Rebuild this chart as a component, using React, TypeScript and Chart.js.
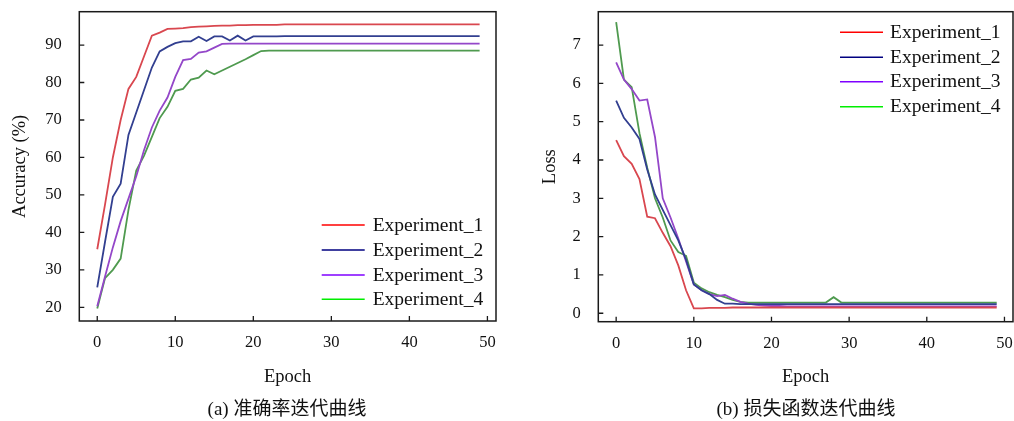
import React, { useEffect, useRef } from "react";
import { Chart, registerables } from "chart.js";

Chart.register(...registerables);

const epochs = [0, 1, 2, 3, 4, 5, 6, 7, 8, 9, 10, 11, 12, 13, 14, 15, 16, 17, 18, 19, 20, 21, 22, 23, 24, 25, 26, 27, 28, 29, 30, 31, 32, 33, 34, 35, 36, 37, 38, 39, 40, 41, 42, 43, 44, 45, 46, 47, 48, 49];

const seriesNames = ["Experiment_1", "Experiment_2", "Experiment_3", "Experiment_4"];

const acc1 = [35.5, 47.5, 60, 70, 78.3, 81.5, 87, 92.5, 93.3, 94.3, 94.4, 94.5, 94.8, 94.9, 95.0, 95.1, 95.2, 95.2, 95.3, 95.3, 95.4, 95.4, 95.4, 95.4, 95.5, 95.5, 95.5, 95.5, 95.5, 95.5, 95.5, 95.5, 95.5, 95.5, 95.5, 95.5, 95.5, 95.5, 95.5, 95.5, 95.5, 95.5, 95.5, 95.5, 95.5, 95.5, 95.5, 95.5, 95.5, 95.5];
const acc2 = [25.3, 37.5, 49.5, 53, 66, 72, 78, 84, 88.3, 89.5, 90.5, 91, 91, 92.2, 91.1, 92.3, 92.3, 91.2, 92.5, 91.2, 92.3, 92.3, 92.3, 92.3, 92.4, 92.4, 92.4, 92.4, 92.4, 92.4, 92.4, 92.4, 92.4, 92.4, 92.4, 92.4, 92.4, 92.4, 92.4, 92.4, 92.4, 92.4, 92.4, 92.4, 92.4, 92.4, 92.4, 92.4, 92.4, 92.4];
const acc3 = [20.3, 28.2, 36, 43, 49, 55, 62, 68, 72.5, 76, 81.5, 86, 86.3, 88, 88.3, 89.3, 90.3, 90.4, 90.4, 90.4, 90.4, 90.4, 90.4, 90.4, 90.4, 90.4, 90.4, 90.4, 90.4, 90.4, 90.4, 90.4, 90.4, 90.4, 90.4, 90.4, 90.4, 90.4, 90.4, 90.4, 90.4, 90.4, 90.4, 90.4, 90.4, 90.4, 90.4, 90.4, 90.4, 90.4];
const acc4 = [19.7, 27.8, 30, 33, 46, 56.5, 60.5, 65.5, 70.5, 73.5, 77.8, 78.3, 80.8, 81.3, 83.2, 82.2, 83.2, 84.2, 85.2, 86.2, 87.3, 88.4, 88.5, 88.5, 88.5, 88.5, 88.5, 88.5, 88.5, 88.5, 88.5, 88.5, 88.5, 88.5, 88.5, 88.5, 88.5, 88.5, 88.5, 88.5, 88.5, 88.5, 88.5, 88.5, 88.5, 88.5, 88.5, 88.5, 88.5, 88.5];

const loss1 = [4.52, 4.1, 3.9, 3.5, 2.52, 2.48, 2.1, 1.75, 1.25, 0.6, 0.13, 0.13, 0.14, 0.14, 0.14, 0.15, 0.15, 0.15, 0.15, 0.15, 0.15, 0.15, 0.15, 0.15, 0.15, 0.15, 0.15, 0.15, 0.15, 0.15, 0.15, 0.15, 0.15, 0.15, 0.15, 0.15, 0.15, 0.15, 0.15, 0.15, 0.15, 0.15, 0.15, 0.15, 0.15, 0.15, 0.15, 0.15, 0.15, 0.15];
const loss2 = [5.55, 5.1, 4.85, 4.55, 3.75, 3.1, 2.7, 2.3, 1.9, 1.4, 0.75, 0.6, 0.5, 0.35, 0.25, 0.25, 0.24, 0.24, 0.24, 0.24, 0.24, 0.24, 0.24, 0.24, 0.24, 0.24, 0.24, 0.24, 0.24, 0.24, 0.24, 0.24, 0.24, 0.24, 0.24, 0.24, 0.24, 0.24, 0.24, 0.24, 0.24, 0.24, 0.24, 0.24, 0.24, 0.24, 0.24, 0.24, 0.24, 0.24];
const loss3 = [6.55, 6.1, 5.85, 5.55, 5.58, 4.6, 3.0, 2.5, 1.95, 1.35, 0.75, 0.6, 0.5, 0.45, 0.48, 0.38, 0.3, 0.25, 0.22, 0.2, 0.19, 0.19, 0.18, 0.18, 0.18, 0.18, 0.18, 0.18, 0.18, 0.18, 0.18, 0.18, 0.18, 0.18, 0.18, 0.18, 0.18, 0.18, 0.18, 0.18, 0.18, 0.18, 0.18, 0.18, 0.18, 0.18, 0.18, 0.18, 0.18, 0.18];
const loss4 = [7.6, 6.1, 5.9, 4.7, 3.8, 3.0, 2.5, 1.9, 1.6, 1.5, 0.8, 0.65, 0.55, 0.48, 0.42, 0.35, 0.3, 0.28, 0.28, 0.28, 0.28, 0.28, 0.28, 0.28, 0.28, 0.28, 0.28, 0.28, 0.42, 0.28, 0.28, 0.28, 0.28, 0.28, 0.28, 0.28, 0.28, 0.28, 0.28, 0.28, 0.28, 0.28, 0.28, 0.28, 0.28, 0.28, 0.28, 0.28, 0.28, 0.28];

const xTicks = [0, 10, 20, 30, 40, 50];
const accTicks = [20, 30, 40, 50, 60, 70, 80, 90];
const lossTicks = [0, 1, 2, 3, 4, 5, 6, 7];

const lineColors = ["#d9474f", "#323f90", "#9447c9", "#4f9a4f"];
const legendColors = ["#ff0000", "#000080", "#7f00ff", "#00ee00"];

const SERIF = '"Liberation Serif", "Times New Roman", serif';

const framePlugin = {
  id: "frameLegend",
  afterDraw(chart: any, _args: any, opts: any) {
    const { ctx, chartArea: a, scales } = chart;
    ctx.save();
    ctx.strokeStyle = "#1a1a1a";
    ctx.lineWidth = 1.5;
    ctx.strokeRect(a.left, a.top, a.right - a.left, a.bottom - a.top);
    ctx.lineWidth = 1.3;
    ctx.beginPath();
    scales.x.ticks.forEach((t: any) => {
      const px = scales.x.getPixelForValue(t.value);
      ctx.moveTo(px, a.bottom);
      ctx.lineTo(px, a.bottom - 5);
    });
    scales.y.ticks.forEach((t: any) => {
      const py = scales.y.getPixelForValue(t.value);
      ctx.moveTo(a.left, py);
      ctx.lineTo(a.left + 5, py);
    });
    ctx.stroke();

    // legend
    const ds = chart.data.datasets;
    ctx.font = `19.5px ${SERIF}`;
    ctx.textBaseline = "middle";
    ctx.textAlign = "left";
    ds.forEach((d: any, i: number) => {
      const y = opts.anchor === "bottom" ? a.bottom + opts.rows[i] : a.top + opts.rows[i];
      ctx.strokeStyle = legendColors[i];
      ctx.lineWidth = 1.6;
      ctx.beginPath();
      ctx.moveTo(a.right - opts.lineStart, y);
      ctx.lineTo(a.right - opts.lineStart + 43, y);
      ctx.stroke();
      ctx.fillStyle = "#111";
      ctx.fillText(d.label, a.right - opts.textStart, y + 0.5);
    });
    ctx.restore();
  },
};

function makeConfig(series: number[][], yMin: number, yMax: number, yTicks: number[], yTitle: string, pad: any, yWidth: number, xHeight: number, legend: any) {
  return {
    type: "line",
    data: {
      labels: epochs,
      datasets: series.map((s, i) => ({
        label: seriesNames[i],
        data: s,
        borderColor: lineColors[i],
        backgroundColor: lineColors[i],
        borderWidth: 1.8,
        pointRadius: 0,
        tension: 0,
        fill: false,
      })),
    },
    options: {
      responsive: false,
      animation: false,
      layout: { padding: pad },
      plugins: {
        legend: { display: false },
        tooltip: { enabled: false },
        frameLegend: legend,
      },
      scales: {
        x: {
          type: "linear",
          min: -2.3,
          max: 51.1,
          afterBuildTicks: (s: any) => {
            s.ticks = xTicks.map((v) => ({ value: v }));
          },
          afterFit: (s: any) => {
            s.height = xHeight;
            s.paddingLeft = 0;
            s.paddingRight = 0;
          },
          grid: { display: false, drawTicks: false },
          border: { display: false },
          ticks: {
            padding: 12,
            color: "#111",
            font: { family: SERIF, size: 16.5 },
            maxRotation: 0,
          },
          title: {
            display: true,
            text: "Epoch",
            color: "#111",
            font: { family: SERIF, size: 18.5 },
            padding: { top: 0, bottom: 12 },
          },
        },
        y: {
          type: "linear",
          min: yMin,
          max: yMax,
          afterBuildTicks: (s: any) => {
            s.ticks = yTicks.map((v) => ({ value: v }));
          },
          afterFit: (s: any) => {
            s.width = yWidth;
            s.paddingTop = 0;
            s.paddingBottom = 0;
          },
          grid: { display: false, drawTicks: false },
          border: { display: false },
          ticks: {
            padding: 17.5,
            color: "#111",
            font: { family: SERIF, size: 16.5 },
          },
          title: {
            display: true,
            text: yTitle,
            color: "#111",
            font: { family: SERIF, size: 18.5 },
            padding: { top: 9, bottom: 0 },
          },
        },
      },
    },
    plugins: [framePlugin],
  };
}

function ChartCanvas({ config, width, height, left }: any) {
  const ref = useRef<HTMLCanvasElement>(null);
  useEffect(() => {
    const c = new Chart(ref.current as HTMLCanvasElement, config);
    return () => c.destroy();
  }, []);
  return (
    <canvas
      ref={ref}
      width={width}
      height={height}
      style={{ position: "absolute", left, top: 0, width, height }}
    />
  );
}

export default function App() {
  const accConfig = makeConfig(
    [acc1, acc2, acc3, acc4],
    16.35,
    98.9,
    accTicks,
    "Accuracy (%)",
    { top: 11.7, right: 34, left: 0, bottom: 0 },
    79.3,
    79,
    { anchor: "bottom", rows: [-96, -71, -46, -21.7], lineStart: 174.3, textStart: 123.3 }
  );
  const lossConfig = makeConfig(
    [loss1, loss2, loss3, loss4],
    -0.22,
    7.87,
    lossTicks,
    "Loss",
    { top: 11.7, right: 1, left: 0, bottom: 0 },
    68.3,
    78.3,
    { anchor: "top", rows: [20.6, 45.6, 70, 95], lineStart: 173, textStart: 123 }
  );
  const captionStyle: any = {
    position: "absolute",
    top: 398,
    fontFamily: '"Liberation Serif", "Noto Sans CJK SC", serif',
    fontSize: 19,
    lineHeight: "22px",
    color: "#111",
    whiteSpace: "nowrap",
    transform: "translateX(-50%)",
  };
  return (
    <div
      style={{
        position: "fixed",
        left: 0,
        top: 0,
        width: 1014,
        height: 421,
        background: "#fff",
        overflow: "hidden",
      }}
    >
      <ChartCanvas config={accConfig} width={530} height={400} left={0} />
      <ChartCanvas config={lossConfig} width={484} height={400} left={530} />
      <div style={{ ...captionStyle, left: 287 }}>(a) 准确率迭代曲线</div>
      <div style={{ ...captionStyle, left: 806 }}>(b) 损失函数迭代曲线</div>
    </div>
  );
}
